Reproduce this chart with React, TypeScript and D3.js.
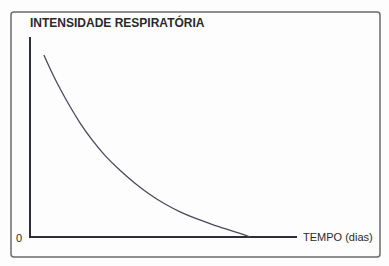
import React from "react";
import * as d3 from "d3";

const timeValues = [0.52, 0.82, 1.12, 1.5, 1.87, 2.32, 2.81, 3.37, 3.93, 4.49, 5.06, 5.62, 6.18, 6.74, 7.3, 7.87, 8.24];
const intensityValues = [8.92, 8.05, 7.27, 6.38, 5.58, 4.75, 3.96, 3.26, 2.62, 2.07, 1.6, 1.22, 0.92, 0.66, 0.4, 0.18, 0.0];
const titleText = "INTENSIDADE RESPIRATÓRIA";
const xAxisLabel = "TEMPO (dias)";
const originLabel = "0";

export default function App() {
  const W = 389, H = 266;
  const x = d3.scaleLinear().domain([0, 10]).range([30, 297]);
  const y = d3.scaleLinear().domain([0, 10]).range([237, 33]);
  const pts: [number, number][] = timeValues.map((t, i) => [t, intensityValues[i]]);
  const line = d3.line<[number, number]>()
    .x(d => x(d[0]))
    .y(d => y(d[1]))
    .curve(d3.curveBasis);
  const font = "'Liberation Sans', Arial, sans-serif";
  return (
    <svg width={W} height={H} style={{ position: "fixed", left: 0, top: 0, background: "#fff" }}>
      <rect x={0} y={0} width={W} height={H} fill="#fdfdfd" />
      <rect x={11} y={12} width={369} height={245} rx={3} fill="none" stroke="#6b6b6b" strokeWidth={1.5} />
      <text x={30} y={27} fontFamily={font} fontWeight="bold" fontSize={12} fill="#2a2a2a">{titleText}</text>
      <line x1={x(0)} y1={y(9.8)} x2={x(0)} y2={y(0)} stroke="#2e2e3a" strokeWidth={2} />
      <line x1={x(0) - 1} y1={y(0)} x2={x(10)} y2={y(0)} stroke="#2e2e3a" strokeWidth={2} />
      <path d={line(pts) || ""} fill="none" stroke="#4a4a5c" strokeWidth={1.3} />
      <text x={x(0) - 8} y={y(0) + 5} textAnchor="end" fontFamily={font} fontSize={11} fill="#2a2a2a">{originLabel}</text>
      <text x={x(10) + 6} y={y(0) + 4} fontFamily={font} fontSize={11} fill="#2a2a2a">{xAxisLabel}</text>
    </svg>
  );
}
